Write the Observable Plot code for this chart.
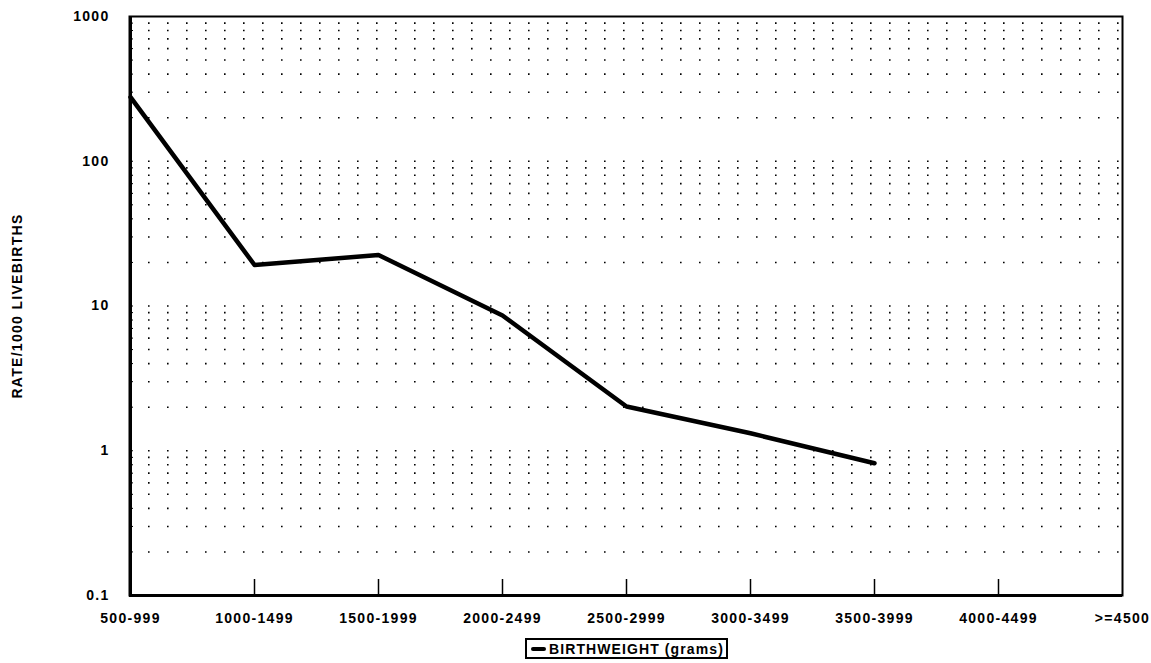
<!DOCTYPE html>
<html>
<head>
<meta charset="utf-8">
<script src="https://cdn.jsdelivr.net/npm/d3@7"></script>
<script src="https://cdn.jsdelivr.net/npm/@observablehq/plot@0.6"></script>
<style>
  html, body { margin: 0; padding: 0; background: #fff; }
  body { width: 1151px; height: 663px; overflow: hidden; font-family: "Liberation Sans", Arial, sans-serif; }
  #legend {
    position: absolute; left: 525px; top: 638px;
    border: 2px solid #000; padding: 0 2px 0 4px; height: 17px;
    display: flex; align-items: center; gap: 3px;
    font: bold 14px "Liberation Sans", Arial, sans-serif; letter-spacing: 1.1px; color: #000; white-space: nowrap;
  }
  #legend .sw { width: 15px; height: 4px; background: #000; border-radius: 2px; }
</style>
</head>
<body>
<div id="chart"></div>
<div id="legend"><span class="sw"></span><span>BIRTHWEIGHT (grams)</span></div>
<script>
const categories = ["500-999", "1000-1499", "1500-1999", "2000-2499", "2500-2999", "3000-3499", "3500-3999", "4000-4499", ">=4500"];
const rateCategories = ["500-999", "1000-1499", "1500-1999", "2000-2499", "2500-2999", "3000-3499", "3500-3999"];
const rates = [277, 19.2, 22.5, 8.6, 2.02, 1.32, 0.82];
const yTicks = [0.1, 1, 10, 100, 1000];
const yTickLabels = ["0.1", "1", "10", "100", "1000"];
const decades = [0.1, 1, 10, 100];
const multipliers = [2, 3, 4, 5, 6, 7, 8, 9, 10];

const gridValues = decades.flatMap(d => multipliers.map(m => +(d * m).toPrecision(3))).filter(v => v < 1000);
const data = rateCategories.map((c, i) => ({category: c, rate: rates[i]}));

const chart = Plot.plot({
  width: 1151,
  height: 636,
  marginLeft: 129,
  marginRight: 29,
  marginTop: 16,
  marginBottom: 41,
  style: {fontFamily: "'Liberation Sans', Arial, sans-serif", fontSize: "14px", fontWeight: "bold", letterSpacing: "1.3px", color: "#000", background: "#fff"},
  x: {type: "point", domain: categories, padding: 0},
  y: {type: "log", domain: [0.1, 1000]},
  marks: [
    Plot.ruleY(gridValues, {stroke: "#000", strokeWidth: 1.6, strokeDasharray: "1.6,17.4"}),
    Plot.tickY(gridValues, {stroke: "#000", strokeWidth: 1, insetRight: 989}),
    Plot.tickX(categories.slice(1, -1), {stroke: "#000", strokeWidth: 1.5, insetTop: 563}),
    Plot.frame({stroke: "#000", strokeWidth: 2}),
    Plot.ruleX([categories[0]], {stroke: "#000", strokeWidth: 3}),
    Plot.ruleY([0.1], {stroke: "#000", strokeWidth: 3}),
    Plot.axisY({ticks: yTicks, tickFormat: (d) => yTickLabels[yTicks.indexOf(d)], tickSize: 0, tickPadding: 20, label: null}),
    Plot.axisX({tickSize: 0, tickPadding: 18, label: null}),
    Plot.text(["RATE/1000 LIVEBIRTHS"], {frameAnchor: "left", textAnchor: "middle", dx: -112, rotate: -90, fontSize: 14, fontWeight: "bold", fill: "#000"}),
    Plot.line(data, {x: "category", y: "rate", stroke: "#000", strokeWidth: 4.5, strokeLinejoin: "round", strokeLinecap: "round"})
  ]
});
document.getElementById("chart").appendChild(chart);
</script>
</body>
</html>
